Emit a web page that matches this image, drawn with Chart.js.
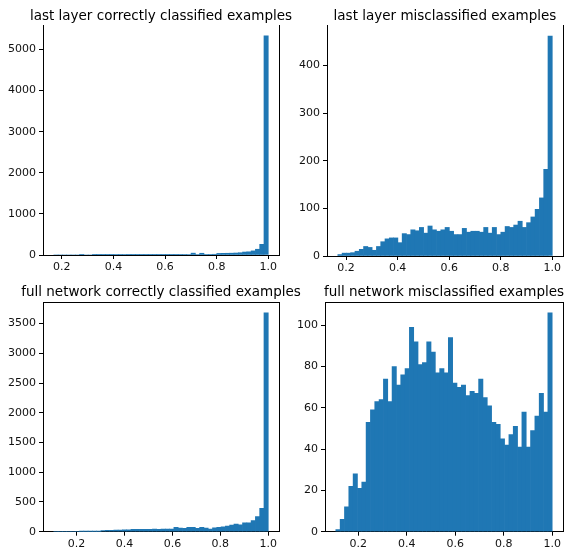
<!DOCTYPE html>
<html><head><meta charset="utf-8">
<script src="https://cdn.jsdelivr.net/npm/chart.js@4.4.0/dist/chart.umd.min.js"></script>
<style>
html,body{margin:0;padding:0;background:#fff;}
#wrap{position:relative;width:565px;height:548px;overflow:hidden;background:#fff;}
canvas{position:absolute;}
.ttl{position:absolute;transform:translateX(-50%);white-space:nowrap;
     font-family:'DejaVu Sans',sans-serif;font-size:13.5px;line-height:16px;color:#000;}
</style></head><body>
<div id="wrap">
<canvas id="c0" width="300" height="275" style="left:0;top:0"></canvas>
<canvas id="c1" width="282" height="275" style="left:283px;top:0"></canvas>
<canvas id="c2" width="305" height="273" style="left:0;top:275px"></canvas>
<canvas id="c3" width="282" height="273" style="left:283px;top:275px"></canvas>
<div class="ttl" id="t0" style="left:161px;top:7px"></div>
<div class="ttl" id="t1" style="left:445px;top:7px"></div>
<div class="ttl" id="t2" style="left:161px;top:283px"></div>
<div class="ttl" id="t3" style="left:444px;top:283px"></div>
</div>
<script>
// ---- titles ----
const titles = [
  "last layer correctly classified examples",
  "last layer misclassified examples",
  "full network correctly classified examples",
  "full network misclassified examples"
];

// ---- histogram bin ranges (first bin left edge, last bin right edge) ----
const binRangeLastCorrect = [0.169, 1.0];
const binRangeLastMis     = [0.168, 1.0];
const binRangeFullCorrect = [0.105, 1.0];
const binRangeFullMis     = [0.108, 1.0];

// ---- counts per bin (50 bins each) ----
const lastLayerCorrect = [
  0,0,0,0,0,0,1,0,0,1,
  1,1,1,2,10,9,10,8,5,4,
  5,4,5,5,6,6,7,6,8,9,
  10,12,45,12,42,14,15,18,38,40,
  42,44,48,55,72,78,100,140,260,5330
];
const lastLayerMis = [
  3,6,6,7,10,14,20,18,12,20,
  30,36,38,38,28,47,45,55,53,60,
  48,63,55,52,55,60,52,45,45,58,
  50,52,52,50,60,48,60,45,50,62,
  60,65,73,60,70,82,98,122,182,462
];
const fullNetCorrect = [
  0,0,0,0,0,0,1,1,1,2,
  2,20,25,25,28,28,30,30,38,38,
  40,40,40,42,40,42,45,45,72,60,
  56,73,72,56,73,60,45,67,75,84,
  95,110,129,115,150,150,185,255,392,3680
];
const fullNetMis = [
  1,6,12,22,28,21,24,53,59,63,
  64,74,63,80,71,76,79,99,92,81,
  82,92,87,77,79,77,94,72,70,71,
  66,68,67,74,65,61,53,52,45,42,
  47,51,41,58,41,49,56,67,58,106
];

// ---- axis limits and ticks ----
const xLimits = [[0.127, 1.0416],[0.126, 1.0416],[0.060, 1.0448],[0.0634, 1.0446]];
const xTicks = [0.2, 0.4, 0.6, 0.8, 1.0];
const yTicksLastCorrect = [0,1000,2000,3000,4000,5000];
const yTicksLastMis = [0,100,200,300,400];
const yTicksFullCorrect = [0,500,1000,1500,2000,2500,3000,3500];
const yTicksFullMis = [0,20,40,60,80,100];

titles.forEach((t,i)=>{ document.getElementById('t'+i).textContent = t; });

function binCenters(range, n){
  const w = (range[1]-range[0])/n;
  const out = [];
  for (let i=0;i<n;i++) out.push(range[0] + w*(i+0.5));
  return out;
}

const spines = {
  id: 'spines',
  afterDraw(chart, args, o){
    const {ctx, chartArea:a} = chart;
    ctx.save();
    ctx.strokeStyle = '#000';
    ctx.lineWidth = 1;
    ctx.beginPath();
    ctx.moveTo(Math.round(a.right)+0.5, a.top);
    ctx.lineTo(Math.round(a.right)+0.5, a.bottom);
    if (o.top){
      ctx.moveTo(a.left, Math.round(a.top)+0.5);
      ctx.lineTo(a.right+1, Math.round(a.top)+0.5);
    }
    ctx.stroke();
    ctx.restore();
  }
};

const FONT = "'DejaVu Sans', sans-serif";

function make(id, range, counts, xl, yTicks, geom){
  const centers = binCenters(range, counts.length);
  const data = centers.map((c,i)=>({x:c, y:counts[i]}));
  const ymax = Math.max(...counts)*1.05;
  new Chart(document.getElementById(id), {
    type: 'bar',
    data: { datasets: [{
      data, backgroundColor: '#1f77b4', borderWidth: 0,
      barPercentage: 1.0, categoryPercentage: 1.0
    }]},
    plugins: [spines],
    options: {
      responsive: false, animation: false, events: [],
      layout: { padding: { left: 0, right: geom.padR, top: geom.padT, bottom: 0 } },
      plugins: {
        legend: { display: false }, tooltip: { enabled: false },
        spines: { top: geom.topSpine },
        title: { display: false }
      },
      scales: {
        x: {
          type: 'linear', min: xl[0], max: xl[1], offset: false,
          afterBuildTicks: s => { s.ticks = xTicks.map(v=>({value:v})); },
          afterFit: s => { s.height = geom.xH; },
          grid: { drawOnChartArea: false, drawTicks: true, tickLength: 4, color: '#000', offset: false },
          border: { display: true, color: '#000', width: 1 },
          ticks: { color: '#111', padding: 2, maxRotation: 0, autoSkip: false,
                   font: { family: FONT, size: 11 }, callback: v => v.toFixed(1) }
        },
        y: {
          type: 'linear', min: 0, max: ymax,
          afterBuildTicks: s => { s.ticks = yTicks.map(v=>({value:v})); },
          afterFit: s => { s.width = geom.yW; },
          grid: { drawOnChartArea: false, drawTicks: true, tickLength: 4, color: '#000' },
          border: { display: true, color: '#000', width: 1 },
          ticks: { color: '#111', padding: 3, autoSkip: false,
                   font: { family: FONT, size: 11 }, callback: v => String(v) }
        }
      }
    }
  });
}

make('c0', binRangeLastCorrect, lastLayerCorrect, xLimits[0], yTicksLastCorrect,
     { yW: 43, xH: 20, padR: 21, padT: 25, topSpine: false });
make('c1', binRangeLastMis, lastLayerMis, xLimits[1], yTicksLastMis,
     { yW: 44, xH: 19, padR: 2, padT: 25, topSpine: false });
make('c2', binRangeFullCorrect, fullNetCorrect, xLimits[2], yTicksFullCorrect,
     { yW: 43, xH: 16.3, padR: 26, padT: 27, topSpine: true });
make('c3', binRangeFullMis, fullNetMis, xLimits[3], yTicksFullMis,
     { yW: 42, xH: 16.3, padR: 2, padT: 27, topSpine: true });
</script>
</body></html>
